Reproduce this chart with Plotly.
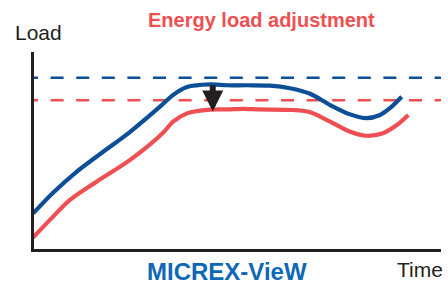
import plotly.graph_objects as go

# Time axis (0-100) and load values (0-100)
blue_time = [0.3, 5.1, 10.9, 17.4, 24.0, 31.3, 34.5, 37.9, 43.5, 47.7, 52.6, 58.2,
             63.1, 68.0, 72.9, 77.8, 81.8, 85.1, 87.5, 90.4]
blue_load = [18.5, 28.8, 39.5, 49.6, 59.7, 72.4, 78.3, 82.3, 83.6, 83.2, 83.2, 83.0,
             81.7, 78.9, 73.2, 68.5, 66.6, 68.2, 71.6, 77.4]

red_time = [0.2, 4.4, 9.3, 15.8, 24.0, 32.0, 34.5, 37.9, 43.5, 47.7, 51.6, 55.7,
            63.8, 68.0, 72.9, 77.8, 81.8, 85.8, 89.2, 92.0]
red_load = [6.1, 15.2, 25.3, 34.5, 45.5, 59.1, 64.8, 69.0, 70.9, 71.0, 71.3, 71.0,
            70.7, 69.6, 64.8, 59.7, 57.7, 59.0, 63.1, 68.2]

target_levels = [87.0, 75.6]          # blue (before), red (after)
target_span = [-1.7, 101.0]
arrow_time = 44.2
arrow_from = 84.0
arrow_to = 70.0

title_text = "Energy load adjustment"
brand_text = "MICREX-VieW"
y_label = "Load"
x_label = "Time"

BLUE = "#0d4f97"
RED = "#ef4f52"
BRAND = "#0f68b5"
INK = "#231f20"
FONT = "Liberation Sans, Arial, sans-serif"

fig = go.Figure()

for lvl, col in zip(target_levels, [BLUE, RED]):
    fig.add_trace(go.Scatter(x=target_span, y=[lvl, lvl], mode="lines",
                             line=dict(color=col, width=2.4, dash="13px,12.6px"),
                             hoverinfo="skip", showlegend=False))

fig.add_trace(go.Scatter(x=red_time, y=red_load, mode="lines",
                         line=dict(color=RED, width=4.2, shape="spline", smoothing=0.9),
                         showlegend=False))
fig.add_trace(go.Scatter(x=blue_time, y=blue_load, mode="lines",
                         line=dict(color=BLUE, width=4.2, shape="spline", smoothing=0.9),
                         showlegend=False))

fig.add_annotation(x=arrow_time, y=arrow_to, ax=arrow_time, ay=arrow_from,
                   xref="x", yref="y", axref="x", ayref="y", text="",
                   showarrow=True, arrowhead=2, arrowwidth=6, arrowsize=0.7,
                   arrowcolor=INK, standoff=0)

fig.add_annotation(x=0.559, y=1.164, xref="paper", yref="paper", text=f"<b>{title_text}</b>",
                   showarrow=False, font=dict(family=FONT, size=20, color=RED),
                   xanchor="center", yanchor="middle")
fig.add_annotation(x=0.012, y=1.10, xref="paper", yref="paper", text=y_label,
                   showarrow=False, font=dict(family=FONT, size=21, color=INK),
                   xanchor="center", yanchor="middle")
fig.add_annotation(x=0.949, y=-0.102, xref="paper", yref="paper", text=x_label,
                   showarrow=False, font=dict(family=FONT, size=21, color=INK),
                   xanchor="center", yanchor="middle")
fig.add_annotation(x=0.473, y=-0.112, xref="paper", yref="paper", text=f"<b>{brand_text}</b>",
                   showarrow=False, font=dict(family=FONT, size=24, color=BRAND),
                   xanchor="center", yanchor="middle")

fig.update_xaxes(range=[0.5, 100], showline=True, linecolor=INK, linewidth=3,
                 showgrid=False, zeroline=False, showticklabels=False, ticks="")
fig.update_yaxes(range=[0.5, 100], showline=True, linecolor=INK, linewidth=3,
                 showgrid=False, zeroline=False, showticklabels=False, ticks="")

fig.update_layout(width=448, height=284, margin=dict(l=34, r=7, t=52, b=35),
                  paper_bgcolor="white", plot_bgcolor="white")

fig.write_html("out.html", config={"displayModeBar": False},
               post_script="document.body.style.margin='0';document.body.style.overflow='hidden';")
